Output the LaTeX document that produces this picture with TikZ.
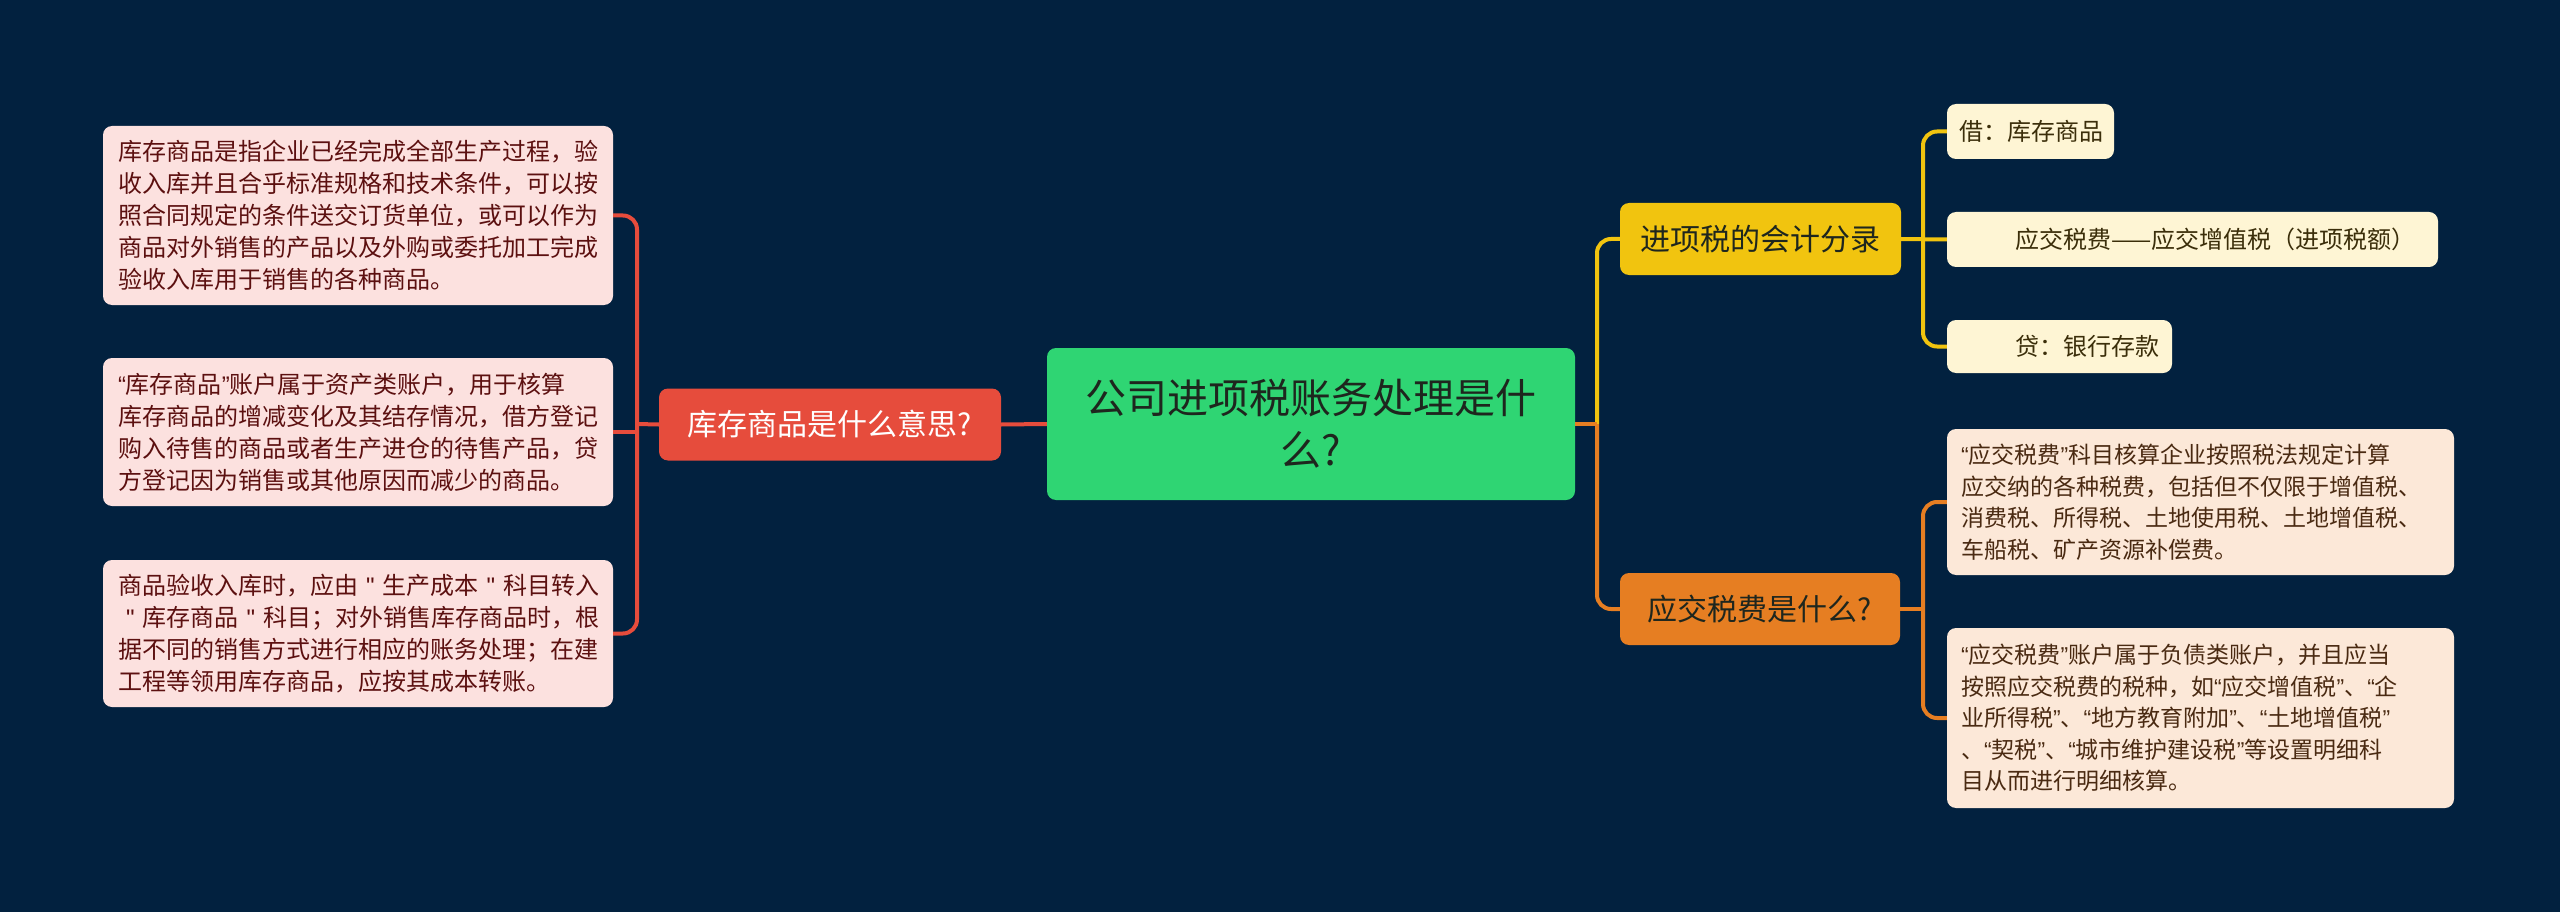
\documentclass[tikz,border=0pt]{standalone}
\usepackage{fontspec}
\setmainfont{Noto Sans CJK SC}
\newfontfamily\qfont{Liberation Sans}
\setmonofont{Liberation Sans}
\newcommand\oq{{\qfont “}}
\newcommand\cq{{\qfont ”}}
\newcommand\sq{{\ttfamily "}}
\usetikzlibrary{calc}
\definecolor{bg}{HTML}{02213F}
\definecolor{cgreen}{HTML}{2FD573}
\definecolor{cred}{HTML}{E64C3C}
\definecolor{cyellow}{HTML}{F1C40F}
\definecolor{corange}{HTML}{E67E22}
\definecolor{pinkfill}{HTML}{FCE1DF}
\definecolor{pinktext}{HTML}{5C1010}
\definecolor{creamfill}{HTML}{FEF5D4}
\definecolor{creamtext}{HTML}{3B2E0A}
\definecolor{peachfill}{HTML}{FCE8D8}
\definecolor{peachtext}{HTML}{4A2A12}
\definecolor{darktext}{HTML}{1E261E}
\tikzset{
  boxbase/.style={rounded corners=9pt, inner ysep=0pt},
  rootbox/.style={boxbase, fill=cgreen, text=darktext, align=center,
    font=\fontsize{41}{52}\selectfont, minimum width=528pt, minimum height=152pt, text width=500pt},
  mainbox/.style={boxbase, text=darktext, align=center,
    font=\fontsize{30}{36}\selectfont, minimum height=72pt, inner xsep=0pt},
  pinkleaf/.style={boxbase, fill=pinkfill, text=pinktext, align=left,
    font=\fontsize{24}{32}\selectfont, inner xsep=15pt, minimum width=510pt, text width=480pt},
  creamleaf/.style={boxbase, fill=creamfill, text=creamtext, align=left,
    font=\fontsize{24}{32}\selectfont, inner xsep=12pt, minimum height=55pt},
  peachleaf/.style={boxbase, fill=peachfill, text=peachtext, align=left,
    font=\fontsize{23}{31.5}\selectfont, inner xsep=14pt, minimum width=507pt, text width=479pt},
  redline/.style={draw=cred, line width=4pt},
  yelline/.style={draw=cyellow, line width=4pt},
  oraline/.style={draw=corange, line width=4pt},
}
\begin{document}
\begin{tikzpicture}[x=1pt,y=-1pt]
\useasboundingbox[fill=bg] (0,0) rectangle (2560,912);

% nodes
\node[rootbox] (root) at (1311,424) {公司进项税账务处理是什\\么?};
\node[mainbox, fill=cred, text=white, minimum width=342pt, text width=342pt] (kc) at (830,424.5) {库存商品是什么意思?};
\node[mainbox, fill=cyellow, minimum width=281pt, text width=281pt] (jx) at (1760.5,239) {进项税的会计分录};
\node[mainbox, fill=corange, minimum width=280pt, text width=280pt] (yj) at (1760,609) {应交税费是什么?};

\node[pinkleaf, minimum height=179pt] (l1) at (358,215.5) {库存商品是指企业已经完成全部生产过程，验\\收入库并且合乎标准规格和技术条件，可以按\\照合同规定的条件送交订货单位，或可以作为\\商品对外销售的产品以及外购或委托加工完成\\验收入库用于销售的各种商品。};
\node[pinkleaf, minimum height=148pt] (l2) at (358,432) {\oq 库存商品\cq 账户属于资产类账户，用于核算\\库存商品的增减变化及其结存情况，借方登记\\购入待售的商品或者生产进仓的待售产品，贷\\方登记因为销售或其他原因而减少的商品。};
\node[pinkleaf, minimum height=147pt] (l3) at (358,633.5) {商品验收入库时，应由~\sq~生产成本~\sq~科目转入\\~\sq~库存商品~\sq~科目；对外销售库存商品时，根\\据不同的销售方式进行相应的账务处理；在建\\工程等领用库存商品，应按其成本转账。};

\node[creamleaf, minimum width=167pt, text width=143pt] (y1) at (2030.5,131.5) {借：库存商品};
\node[creamleaf, minimum width=491pt, text width=467pt] (y2) at (2192.5,239.5) {\hspace*{56pt}应交税费——应交增值税（进项税额）};
\node[creamleaf, minimum width=225pt, text width=201pt, minimum height=53pt] (y3) at (2059.5,346.5) {\hspace*{56pt}贷：银行存款};

\node[peachleaf, minimum height=146pt] (o1) at (2200.5,502) {\oq 应交税费\cq 科目核算企业按照税法规定计算\\应交纳的各种税费，包括但不仅限于增值税、\\消费税、所得税、土地使用税、土地增值税、\\车船税、矿产资源补偿费。};
\node[peachleaf, minimum height=180pt] (o2) at (2200.5,718) {\oq 应交税费\cq 账户属于负债类账户，并且应当\\按照应交税费的税种，如\oq 应交增值税\cq 、\oq 企\\业所得税\cq 、\oq 地方教育附加\cq 、\oq 土地增值税\cq\\、\oq 契税\cq 、\oq 城市维护建设税\cq 等设置明细科\\目从而进行明细核算。};

% junction coordinates
\coordinate (jl) at (637,424);
\coordinate (jc) at (1597,424);
\coordinate (jy) at (1923,239);
\coordinate (jo) at (1923,609);

% left connectors
\draw[redline] (root.west) -- (kc.east);
\draw[redline, rounded corners=14pt] (l1.east) -| (jl |- l3.east) -- (l3.east);
\draw[redline] (kc.west) -- (jl);
\draw[redline] (l2.east) -- (l2.east -| jl);

% central to right
\draw[yelline, rounded corners=14pt] (jc) |- (jx.west);
\draw[oraline, rounded corners=14pt] (jc) |- (yj.west);
\draw[oraline] (root.east) -- (jc);

% yellow branch
\draw[yelline, rounded corners=14pt] (y1.west) -| (jy |- y3.west) -- (y3.west);
\draw[yelline] (jx.east) -- (y2.west);

% orange branch
\draw[oraline, rounded corners=14pt] (o1.west) -| (jo |- o2.west) -- (o2.west);
\draw[oraline] (yj.east) -- (jo);
\end{tikzpicture}
\end{document}
